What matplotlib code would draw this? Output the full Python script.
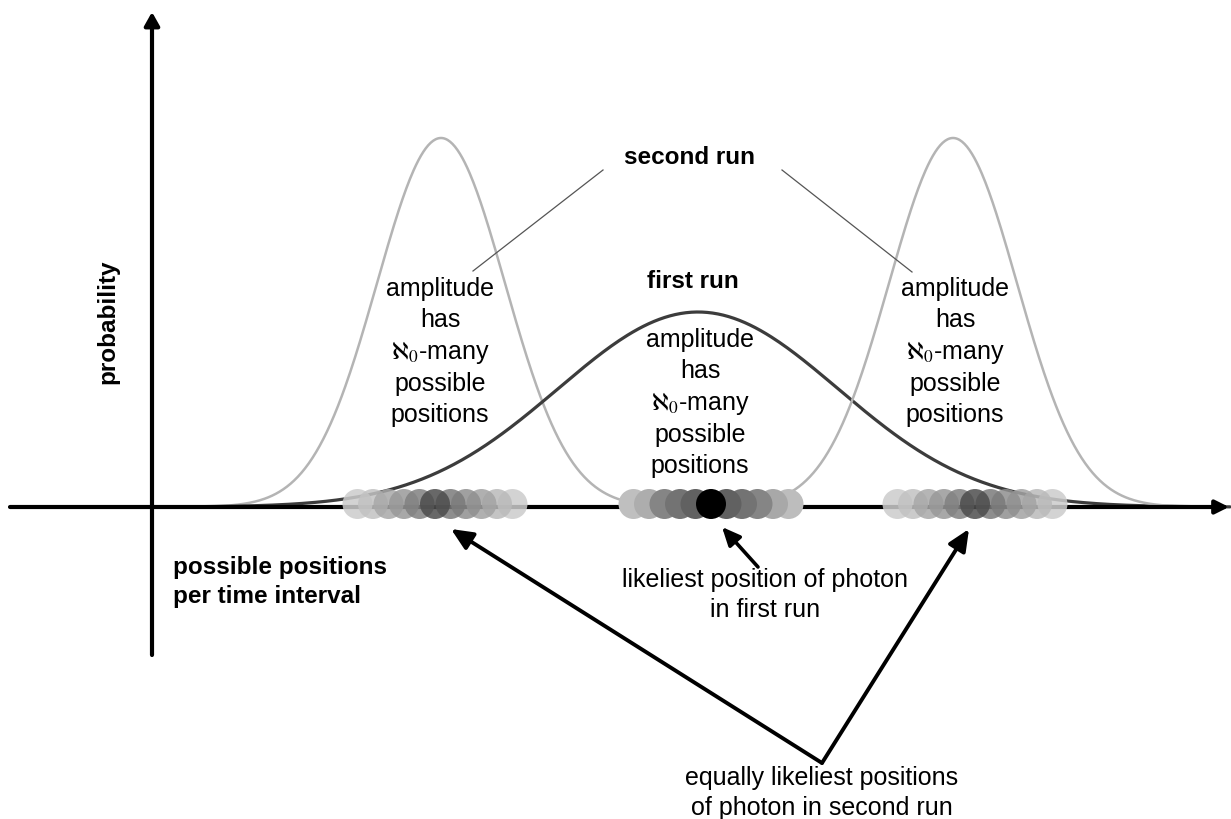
"""Probability sketch: first run vs second run photon positions."""
import matplotlib
matplotlib.use("Agg")
import matplotlib.pyplot as plt
from matplotlib.patches import Circle
import numpy as np

plt.rcParams["font.family"] = ["Liberation Sans", "DejaVu Sans"]
plt.rcParams["mathtext.fontset"] = "stix"

# Data (x = position along the axis, y = height above the position axis)
bell_centers = [441, 698, 953]
bell_heights = [369, 195, 369]
bell_sigmas = [64, 140, 64]
bell_colors = ["#b4b4b4", "#3c3c3c", "#b4b4b4"]

# blurred photon positions: group centre + offsets, grey level per offset
group_centers = [435, 711, 975]
circle_offsets = [-5, -4, -3, -2, -1, 0, 1, 2, 3, 4, 5]
side_shades = [0.80, 0.76, 0.66, 0.60, 0.50, 0.30, 0.48, 0.56, 0.64, 0.73, 0.80]
center_shades = [0.75, 0.68, 0.52, 0.45, 0.38, 0.0, 0.38, 0.45, 0.52, 0.66, 0.74]
group_shades = [side_shades, center_shades, side_shades]
group_alpha = [0.85, 1.0, 0.85]

amp_text = "amplitude\nhas\n$\\aleph_0$-many\npossible\npositions"

fig = plt.figure(figsize=(12.31, 8.19), dpi=100)
ax = fig.add_axes([0, 0, 1, 1])
ax.set_xlim(0, 1231)
ax.set_ylim(-312, 507)
ax.axis("off")

# --- bell curves ---
for c, h, s, col in zip(bell_centers, bell_heights, bell_sigmas, bell_colors):
    xs = np.linspace(c - 3.8 * s, c + 3.8 * s, 400)
    lw = 2.3 if col == "#3c3c3c" else 1.8
    ax.plot(xs, h * np.exp(-0.5 * ((xs - c) / s) ** 2), color=col, lw=lw,
            zorder=2, solid_capstyle="round")

# --- axes arrows ---
def arrow(start, end, lw, hl, hw, ms, z=3, color="black"):
    ax.annotate("", xy=end, xytext=start,
                arrowprops=dict(arrowstyle=f"-|>,head_length={hl},head_width={hw}",
                                lw=lw, color=color, shrinkA=0, shrinkB=0,
                                mutation_scale=ms),
                zorder=z)

arrow((10, 0), (1229, 0), 3.0, 0.8, 0.4, 10)
arrow((152, -148), (152, 495), 3.0, 0.8, 0.45, 10)

# --- photon position circles ---
r = 15
step = 15.5
for gc, shades, a in zip(group_centers, group_shades, group_alpha):
    order = sorted(range(len(circle_offsets)), key=lambda i: -abs(circle_offsets[i]))
    for i in order:
        ax.add_patch(Circle((gc + circle_offsets[i] * step, 3), r,
                            facecolor=str(shades[i]), edgecolor="none",
                            alpha=a, zorder=4))

# --- pointer arrows ---
arrow((822, -256), (451, -22), 2.8, 1.0, 0.45, 13, z=5)
arrow((822, -256), (969, -22), 2.8, 1.0, 0.45, 13, z=5)
arrow((758, -60), (722, -20), 2.6, 1.0, 0.45, 11, z=5)

# --- leader lines from "second run" ---
ax.plot([603, 473], [337, 236], color="#555555", lw=0.9, zorder=3)
ax.plot([782, 912], [337, 235], color="#555555", lw=0.9, zorder=3)

# --- texts ---
fs = 18
fsb = 17.5
ls = 1.35
ax.text(690, 350, "second run", fontsize=fsb, fontweight="bold", ha="center", va="center")
ax.text(693, 225, "first run", fontsize=fsb, fontweight="bold", ha="center", va="center")
for x, y in [(440, 155), (700, 104), (955, 155)]:
    ax.text(x, y, amp_text, fontsize=fs, ha="center", va="center",
            multialignment="center", linespacing=ls)
ax.text(108, 185, "probability", fontsize=fsb, fontweight="bold", rotation=90,
        ha="center", va="center")
ax.text(173, -75, "possible positions\nper time interval", fontsize=fsb,
        fontweight="bold", ha="left", va="center", linespacing=ls)
ax.text(765, -88, "likeliest position of photon\nin first run", fontsize=fs,
        ha="center", va="center", multialignment="center", linespacing=ls)
ax.text(822, -286, "equally likeliest positions\nof photon in second run", fontsize=fs,
        ha="center", va="center", multialignment="center", linespacing=ls)

fig.savefig("out.png", dpi=100)
